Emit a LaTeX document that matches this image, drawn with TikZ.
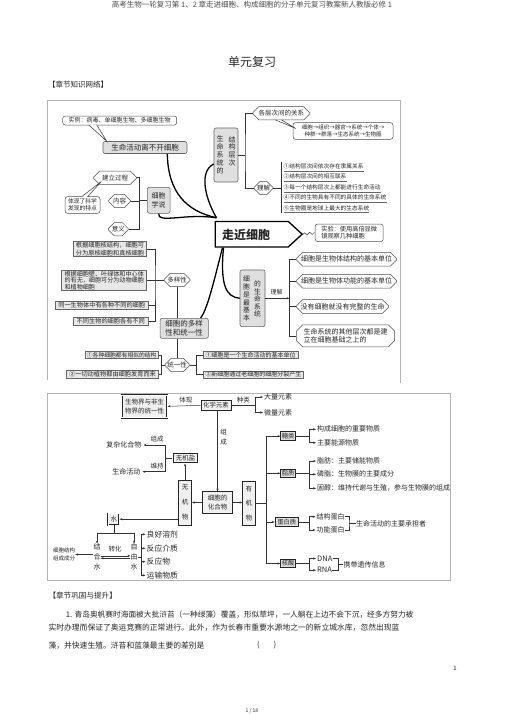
\documentclass[tikz,border=0pt]{standalone}
\usepackage{fontspec}
\setmainfont{Noto Sans CJK SC}
\usetikzlibrary{arrows.meta,shapes.misc,shapes.symbols,calc,decorations.pathmorphing}
\newcommand\fz[2]{\fontsize{#1}{#2}\selectfont}
\begin{document}
\begin{tikzpicture}[x=1pt,y=-1pt,
  every node/.style={inner sep=0pt, text=black!85},
  ln/.style={black!80, line width=0.5pt},
  arr/.style={ln, -{Stealth[length=2.8pt,width=2.2pt]}},
  thk/.style={black, line width=1.3pt},
  rbox/.style={draw=black!70, rounded corners=2.5pt, line width=0.5pt, fill=white},
  gfill/.style={draw=black!60, fill=gray!25, rounded corners=2pt, line width=0.6pt},
  hexa/.style={chamfered rectangle, chamfered rectangle xsep=2.5pt, draw=black!70, line width=0.5pt, fill=white},
  lbox/.style={draw=black!60, fill=gray!18, line width=0.6pt},
  sq/.style={draw=black!85, fill=gray!12, line width=0.6pt},
  frm/.style={gray!60, line width=0.6pt}]
\fill[white] (0,0) rectangle (505,715);
\path[use as bounding box] (0,0) rectangle (505,715);

% header
\node[font=\fz{7.5}{9}, text=black!70] (hdr) at (252,5) {高考生物一轮复习第 1、2 章走进细胞、构成细胞的分子单元复习教案新人教版必修 1};
\node[font=\fz{12}{14}] (ttl) at (252,62) {单元复习};
\node[anchor=west, font=\fz{7.5}{9}] (sec1) at (48,85) {【章节知识网络】};

% ===== top diagram =====
\draw[frm] (47,380) -- (47,100) -- (400,100) -- (400,383);

\node[rbox, minimum width=114pt, minimum height=9pt, font=\fz{6}{7}] (shili) at (119.7,120.5) {实例：病毒、单细胞生物、多细胞生物};
\node[gfill, minimum width=84pt, minimum height=12pt, font=\fz{7.5}{9}] (shengming) at (145,147.5) {生命活动离不开细胞};
\draw[ln, fill=white] ($(shili.south)+(-31,-0.4)$) -- ($(shengming.north west)+(4,0)$) -- ($(shili.south)+(-23,-0.4)$);

\node[gfill, minimum width=24pt, minimum height=54pt] (xitong) at (226,155) {};
\node[font=\fz{7}{8}, align=center] (xitongL) at (220,154.5) {生\\命\\系\\统\\的};
\node[font=\fz{7}{7.6}, align=center] (xitongR) at (232,151) {结\\构\\层\\次};

\node[hexa, minimum width=57pt, minimum height=10pt, font=\fz{6.5}{7.5}] (gecengci) at (281.3,113.3) {各层次间的关系};
\node[rbox, minimum width=100pt, minimum height=16.6pt, font=\fz{5.5}{7}, align=center] (xzz) at (343,131) {细胞→组织→器官→系统→个体→\\种群→群落→生态系统→生物圈};
\draw[ln, fill=white] ($(gecengci.south)+(-6,-0.4)$) -- ($(xzz.west)+(3,-2.5)$) -- ($(gecengci.south)+(0,-0.4)$);
\node[hexa, minimum width=19pt, minimum height=10.6pt, font=\fz{6.5}{7.5}] (lijie1) at (263.5,188) {理解};
\coordinate (b1) at (245,155);
\draw[ln] (xitong.east) -- (b1);
\draw[ln] (gecengci.west) -| (b1) |- (lijie1.west);

\node[anchor=west, font=\fz{5.7}{7}] (lj1) at (283.5,166.2) {①结构层次间依次存在隶属关系};
\node[anchor=west, font=\fz{5.7}{7}] (lj2) at (283.5,176.7) {②结构层次间的相互联系};
\node[anchor=west, font=\fz{5.7}{7}] (lj3) at (283.5,187.2) {③每一个结构层次上都能进行生命活动};
\node[anchor=west, font=\fz{5.7}{7}] (lj4) at (283.5,197.5) {④不同的生物具有不同的具体的生命系统};
\node[anchor=west, font=\fz{5.7}{7}] (lj5) at (283.5,208) {⑤生物圈是地球上最大的生态系统};
\foreach \n in {lj1,lj2,lj3,lj4,lj5}
  \draw[black!60, line width=0.5pt] ([yshift=-1.8pt]\n.south west) -- ([yshift=-1.8pt]\n.south east);
\coordinate (b5) at (281.5,188);
\draw[ln] (lijie1.east) -- (b5);
\draw[ln] ($(b5 |- lj1.north)+(0,-1)$) -- ($(b5 |- lj5.south)+(0,2)$);

\node[gfill, minimum width=22.7pt, minimum height=26pt, font=\fz{7}{9}, align=center] (xueshuo) at (158.7,200.3) {细胞\\学说};
\node[hexa, minimum width=43pt, minimum height=10pt, font=\fz{6.5}{7.5}] (jianli) at (115,177.7) {建立过程};
\node[hexa, minimum width=22pt, minimum height=10pt, font=\fz{6.5}{7.5}] (neirong) at (119.5,201) {内容};
\node[hexa, minimum width=20pt, minimum height=9pt, font=\fz{6.5}{7.5}] (yiyi) at (118.3,229.2) {意义};
\coordinate (b2) at (139.3,200.3);
\draw[ln] (xueshuo.west) -- (b2);
\draw[ln] (jianli.east) -| (b2) |- (yiyi.east);
\draw[ln] (neirong.east) -- (neirong.east -| b2);
\node[rbox, minimum width=35pt, minimum height=16.6pt, font=\fz{5.8}{7.2}, align=center] (tixian) at (82.5,205) {体现了科学\\发现的特点};
\draw[ln, fill=white] ($(tixian.north)+(-1,0.4)$) -- ($(jianli.south west)+(5,0)$) -- ($(tixian.north)+(5,0.4)$);

\node[signal, signal to=east, signal pointer angle=85, draw=black, line width=1.3pt, fill=white, minimum width=87pt, minimum height=25.5pt] (zoujin) at (251.7,234.2) {};
\node[font=\bfseries\fz{12}{14}] (zjtext) at (246,234.5) {走近细胞};
\node[rbox, minimum width=68pt, minimum height=17.6pt, font=\fz{6.2}{7.6}, align=left] (shiyan) at (349.2,232.8) {实验：使用高倍显微\\镜观察几种细胞};
\draw[ln, decorate, decoration={snake, amplitude=1.2pt, segment length=5pt}] (zoujin.east) -- (shiyan.west);

\coordinate (ztl) at (zoujin.west |- zoujin.north);
\coordinate (zbl) at (zoujin.west |- zoujin.south);
\draw[thk] ($(shengming.south east)+(-20,0)$) .. controls (168,192) and (186,211) .. ($(ztl)+(2,-3)$);
\draw[thk] ($(xitong.west)+(0,9)$) .. controls (198,172) and (206,200) .. ($(ztl)+(2,-3)$);
\draw[thk] (xueshuo.south) .. controls (157,224) and (186,213) .. ($(ztl)+(2,-3)$);

\node[gfill, minimum width=25pt, minimum height=56.7pt] (zuijiben) at (252.5,298.3) {};
\node[font=\fz{6.8}{7.8}, align=center] (zjbL) at (246.5,298.5) {细\\胞\\是\\最\\基\\本};
\node[font=\fz{6.8}{7.6}, align=center] (zjbR) at (257.5,299) {的\\生\\命\\系\\统};

\coordinate (b3) at (289.3,298.3);
\draw[arr] (zuijiben.east) -- (b3);
\node[font=\fz{6}{7}] (lijie2) at (276.5,292) {理解};
\node[hexa, minimum width=100pt, minimum height=11.7pt, font=\fz{7}{8}] (jiegou) at (346.5,259.3) {细胞是生物体结构的基本单位};
\node[hexa, minimum width=100pt, minimum height=11pt, font=\fz{7}{8}] (gongneng) at (346.5,281.3) {细胞是生物体功能的基本单位};
\node[hexa, minimum width=92pt, minimum height=12pt, font=\fz{7}{8}] (meiyou) at (342.5,306.5) {没有细胞就没有完整的生命};
\node[hexa, minimum width=98pt, minimum height=18pt, font=\fz{7}{8.2}, align=left] (qita) at (345.5,335.8) {生命系统的其他层次都是建\\立在细胞基础之上的};
\draw[ln] (jiegou.west) -| (b3) |- (qita.west);
\draw[ln] (gongneng.west) -- (gongneng.west -| b3);
\draw[ln] (meiyou.west) -- (meiyou.west -| b3);

\node[hexa, minimum width=26pt, minimum height=10pt, font=\fz{6.5}{7.5}] (duoyang) at (177,280) {多样性};
\node[lbox, minimum width=73.4pt, minimum height=15pt, font=\fz{6.2}{7.2}, align=left] (hejie) at (110,249.2) {根据细胞核结构，细胞可\\分为原核细胞和真核细胞};
\node[lbox, minimum width=85pt, minimum height=20.7pt, font=\fz{6.1}{6.5}, align=left] (biwall) at (104.2,280.3) {根据细胞壁、叶绿体和中心体\\的有无，细胞可分为动物细胞\\和植物细胞};
\node[lbox, minimum width=93.3pt, minimum height=8.5pt, font=\fz{6.2}{7}] (tongyi1) at (101.7,305.5) {同一生物体中有各种不同的细胞};
\node[lbox, minimum width=75pt, minimum height=8.5pt, font=\fz{6.2}{7}] (butong) at (110.8,321.2) {不同生物的细胞各有不同};
\coordinate (b4) at (155,280);
\draw[ln] (duoyang.west) -- (b4);
\draw[ln] (hejie.east) -| (b4) |- (butong.east);
\draw[ln] (biwall.east) -- (biwall.east -| b4);
\draw[ln] (tongyi1.east) -- (tongyi1.east -| b4);

\node[gfill, minimum width=48.3pt, minimum height=20pt, font=\fz{7.5}{9.5}, align=center] (dyt) at (184.2,328.3) {细胞的多样\\性和统一性};
\draw[ln] (duoyang.south) -- (duoyang.south |- dyt.north);
\draw[thk] ($(zbl)+(8,0)$) .. controls (213,285) and (207,310) .. ($(dyt.north east)+(-8,0)$);
\draw[thk] ($(zbl)+(9,0)$) .. controls (220,285) and (226,297) .. (zuijiben.west);
\node[hexa, minimum width=24.3pt, minimum height=10pt, font=\fz{6.5}{7.5}] (tyx) at (177.2,365) {统一性};
\draw[ln] (dyt.south -| tyx.north) -- (tyx.north);
\coordinate (b6) at (161.5,365);
\draw[ln] (tyx.west) -- (b6);
\node[lbox, minimum width=73.3pt, minimum height=7.5pt, font=\fz{5.8}{6.5}] (tl1) at (121.7,355) {①各种细胞都有相似的结构};
\node[lbox, minimum width=91.6pt, minimum height=8.3pt, font=\fz{6.2}{6.8}] (tl2) at (112.5,374.2) {②一切动植物都由细胞发育而来};
\draw[ln] (tl1.east) -| (b6) |- (tl2.east);
\coordinate (b7) at (196.7,365);
\draw[ln] (tyx.east) -- (b7);
\node[lbox, minimum width=95pt, minimum height=7.5pt, font=\fz{6}{6.5}] (tr1) at (250.7,355) {①细胞是一个生命活动的基本单位};
\node[lbox, minimum width=100pt, minimum height=7.5pt, font=\fz{6}{6.5}] (tr2) at (253.3,374.7) {②新细胞通过老细胞的细胞分裂产生};
\draw[ln] (tr1.west) -| (b7) |- (tr2.west);

% ===== bottom diagram =====
\draw[frm] (47.3,393.3) rectangle (450.7,580);
\node[sq, double, double distance=0.7pt, minimum width=45.6pt, minimum height=22.7pt, font=\fz{6.5}{9.5}, align=center] (swj) at (144.5,406.3) {生物界与非生\\物界的统一性};
\node[sq, minimum width=30pt, minimum height=9.3pt, font=\fz{6.3}{7.5}] (hx) at (216,405.3) {化学元素};
\draw[arr] (hx.west) -- (swj.east);
\node[font=\fz{6.5}{7.5}] (tixianlab) at (185.8,400.3) {体现};
\coordinate (b8) at (255,405.3);
\draw[ln] (hx.east) -- (b8);
\node[font=\fz{6.5}{7.5}] (zhonglei) at (243.3,400.3) {种类};
\node[anchor=west, font=\fz{7}{8}] (dl) at (264,397) {大量元素};
\node[anchor=west, font=\fz{7}{8}] (wl) at (264,412.5) {微量元素};
\draw[arr, shorten >=1pt] (b8) |- (dl.west);
\draw[arr, shorten >=1pt] (b8) |- (wl.west);

\node[sq, minimum width=29.6pt, minimum height=21.6pt, font=\fz{6.5}{8.5}, align=center] (hhw) at (217.5,502.5) {细胞的\\化合物};
\draw[arr] (hx.south -| hhw.north) -- (hhw.north);
\node[font=\fz{6.5}{10}, align=center] (zuchengV) at (223.5,437) {组\\成};
\node[sq, minimum width=13.4pt, minimum height=45pt, font=\fz{6.5}{15}, align=center] (wj) at (185,502.5) {无\\机\\物};
\node[sq, minimum width=12.3pt, minimum height=43.3pt, font=\fz{6.5}{14.5}, align=center] (yj) at (248.8,503.3) {有\\机\\物};
\draw[arr] (hhw.west) -- (wj.east);
\draw[arr] (hhw.east) -- (hhw.east -| yj.west);

\coordinate (t) at (266,503.3);
\draw[ln] (yj.east) -- (t);
\node[sq, fill=gray!25, minimum width=15pt, minimum height=9pt, font=\fz{6.3}{7.5}] (tang) at (288.2,436.2) {糖类};
\node[sq, fill=gray!25, minimum width=15pt, minimum height=8.5pt, font=\fz{6.3}{7.5}] (zz) at (288.2,473.3) {脂质};
\node[sq, fill=gray!25, minimum width=23.3pt, minimum height=9.4pt, font=\fz{6.3}{7.5}] (dbz) at (286.7,522) {蛋白质};
\node[sq, fill=gray!25, minimum width=15pt, minimum height=8.5pt, font=\fz{6.3}{7.5}] (hs) at (288.2,563.5) {核酸};
\draw[arr] (t) |- (tang.west);
\draw[arr] (t) |- (zz.west);
\draw[arr] (t) |- (dbz.west);
\draw[arr] (t) |- (hs.west);

\coordinate (b9) at (309,436.2);
\draw[ln] (tang.east) -- (b9);
\node[anchor=west, font=\fz{7}{8}] (tg1) at (317,429.3) {构成细胞的重要物质};
\node[anchor=west, font=\fz{7}{8}] (tg2) at (317,442.7) {主要能源物质};
\draw[arr, shorten >=1pt] (b9) |- (tg1.west);
\draw[arr, shorten >=1pt] (b9) |- (tg2.west);

\coordinate (b10) at (309,473.3);
\draw[ln] (zz.east) -- (b10);
\node[anchor=west, font=\fz{7}{8}] (zz1) at (317,461) {脂肪：主要储能物质};
\node[anchor=west, font=\fz{7}{8}] (zz2) at (317,474.3) {磷脂：生物膜的主要成分};
\node[anchor=west, font=\fz{7}{8}] (zz3) at (317,488.3) {固醇：维持代谢与生殖，参与生物膜的组成};
\draw[arr, shorten >=1pt] (b10) |- (zz1.west);
\draw[arr, shorten >=1pt] (b10) |- (zz2.west);
\draw[arr, shorten >=1pt] (b10) |- (zz3.west);

\coordinate (b11) at (309,522);
\draw[ln] (dbz.east) -- (b11);
\node[anchor=west, font=\fz{7}{8}] (db1) at (316.5,516.7) {结构蛋白};
\node[anchor=west, font=\fz{7}{8}] (db2) at (316.5,530) {功能蛋白};
\draw[arr, shorten >=1pt] (b11) |- (db1.west);
\draw[arr, shorten >=1pt] (b11) |- (db2.west);
\coordinate (b12) at (349,523.3);
\draw[ln] (db1.east) -| (b12) |- (db2.east);
\node[anchor=west, font=\fz{7}{8}] (smhd) at (356,523.3) {生命活动的主要承担者};
\draw[ln] (b12) -- (smhd.west);

\coordinate (b13) at (309,563.5);
\draw[ln] (hs.east) -- (b13);
\node[anchor=west, font=\fz{7.5}{8}] (dna) at (317,558.5) {DNA};
\node[anchor=west, font=\fz{7.5}{8}] (rna) at (317,570.2) {RNA};
\draw[arr, shorten >=1pt] (b13) |- (dna.west);
\draw[arr, shorten >=1pt] (b13) |- (rna.west);
\coordinate (b14) at (338.3,564.4);
\draw[ln] (dna.east) -| (b14) |- (rna.east);
\node[anchor=west, font=\fz{7}{8}] (xd) at (343.3,564.4) {携带遗传信息};
\draw[ln] (b14) -- (xd.west);

\node[sq, double, double distance=0.6pt, minimum width=25.6pt, minimum height=10.6pt, font=\fz{6.5}{7.5}] (wjy) at (185.5,458) {无机盐};
\draw[arr] (wj.north) -- (wj.north |- wjy.south);
\coordinate (b15) at (165,458);
\draw[ln] (wjy.west) -- (b15);
\node[anchor=east, font=\fz{7}{8}] (fzhh) at (141.5,445) {复杂化合物};
\node[anchor=east, font=\fz{7}{8}] (smhd2) at (140.5,471.7) {生命活动};
\draw[arr, shorten >=2pt] (b15) |- (fzhh.east);
\draw[arr, shorten >=2pt] (b15) |- (smhd2.east);
\node[font=\fz{6.5}{7.5}] (zcl) at (157,439.5) {组成};
\node[font=\fz{6.5}{7.5}] (wcl) at (157,466) {维持};

\node[sq, double, double distance=0.5pt, minimum width=11pt, minimum height=11.7pt, font=\fz{6.5}{7.5}] (water) at (113.8,519.2) {水};
\draw[arr] (wj.west |- water.east) -- (water.east);
\coordinate (w1) at (113.8,533.3);
\draw[ln] (water.south) -- (w1);
\node[font=\fz{7}{10}, align=center] (jh) at (97,557) {结\\合\\水};
\node[font=\fz{7}{10}, align=center] (zy) at (134,557) {自\\由\\水};
\draw[arr] (w1) -| (jh.north);
\draw[arr] (w1) -| (zy.north);
\node[font=\fz{6.5}{7.5}] (zh) at (115,549.5) {转化};
\draw[arr] ([yshift=1.2pt]jh.east) -- ([yshift=1.2pt]zy.west);
\draw[arr] ([yshift=-1.2pt]zy.west) -- ([yshift=-1.2pt]jh.east);
\node[font=\fz{5.5}{7.6}, align=center] (xbjg) at (64,554.5) {细胞结构\\组成成分};
\draw[arr] (jh.west |- xbjg.east) -- (xbjg.east);

\coordinate (b16) at (141.7,557);
\draw[ln] (zy.east) -- (b16);
\node[anchor=west, font=\fz{7.8}{9}] (ly1) at (146.5,534.3) {良好溶剂};
\node[anchor=west, font=\fz{7.8}{9}] (ly2) at (146.5,548.3) {反应介质};
\node[anchor=west, font=\fz{7.8}{9}] (ly3) at (146.5,561.7) {反应物};
\node[anchor=west, font=\fz{7.8}{9}] (ly4) at (146.5,575.3) {运输物质};
\draw[arr, shorten >=1pt] (b16) |- (ly1.west);
\draw[arr, shorten >=1pt] (b16) |- (ly2.west);
\draw[arr, shorten >=1pt] (b16) |- (ly3.west);
\draw[arr, shorten >=1pt] (b16) |- (ly4.west);

% ===== text below =====
\node[anchor=west, font=\fz{7.6}{9}] (sec2) at (48.3,595.7) {【章节巩固与提升】};
\node[anchor=west, font=\fz{7.7}{9}] (p1) at (65.7,615) {1. 青岛奥帆赛时海面被大批浒苔（一种绿藻）覆盖，形似草坪，一人躺在上边不会下沉，经多方努力被};
\node[anchor=west, font=\fz{7.8}{9}] (p2) at (48.3,627.7) {实时办理而保证了奥运竞赛的正常进行。此外，作为长春市重要水源地之一的新立城水库，忽然出现蓝};
\node[anchor=west, font=\fz{7.8}{9}] (p3) at (48.3,645.3) {藻，并快速生殖。浒苔和蓝藻最主要的差别是};
\node[font=\fz{7.7}{9}] (paren) at (266.7,645.3) {(\hspace{14pt})};
\node[font=\fz{6}{7}] (pg) at (455,668.3) {1};
\node[font=\fz{5}{6}] (pgof) at (252,711) {1 / 18};
\end{tikzpicture}
\end{document}
